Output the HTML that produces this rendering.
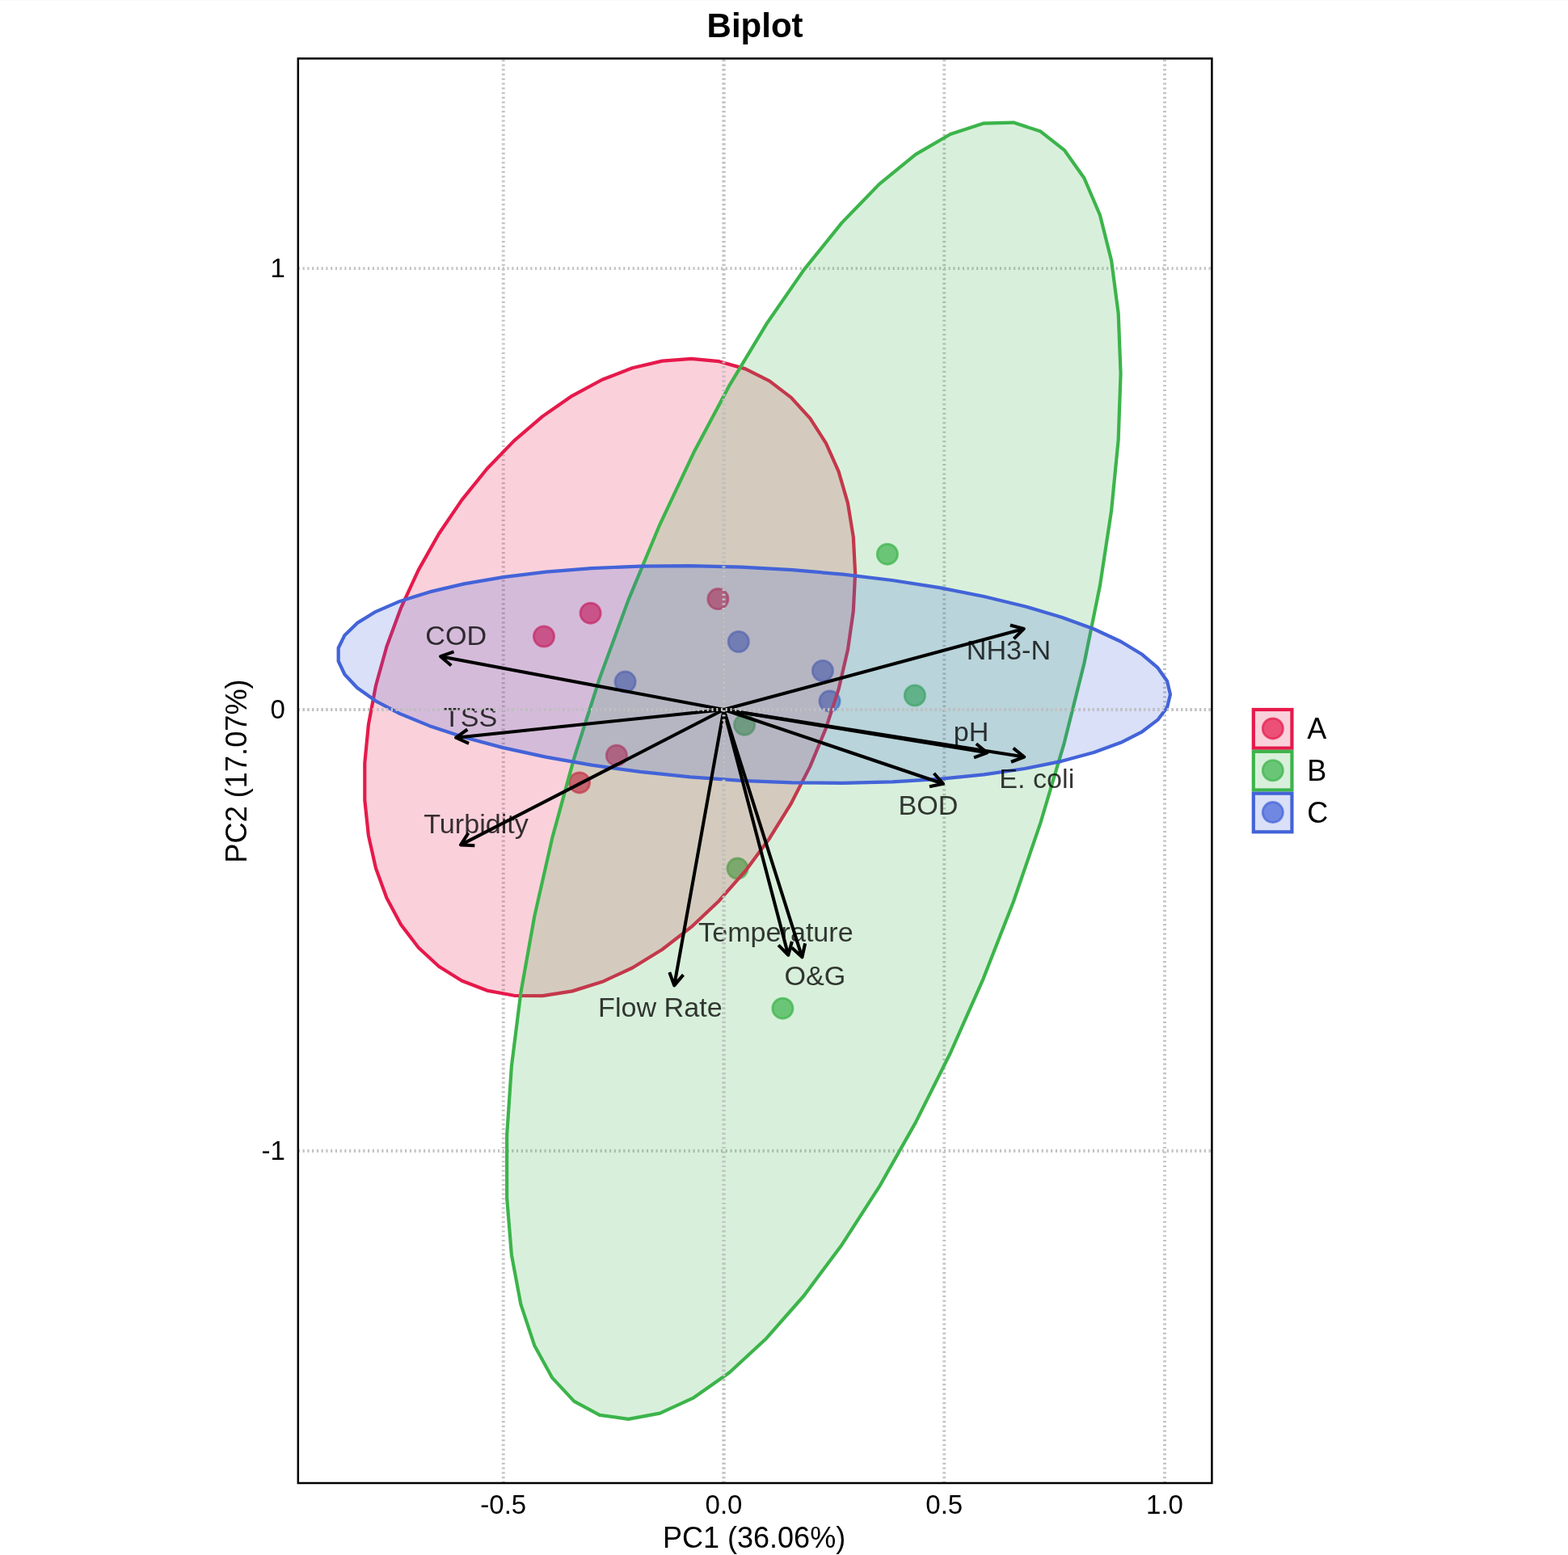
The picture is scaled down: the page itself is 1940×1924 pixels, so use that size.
<!DOCTYPE html>
<html lang="en"><head><meta charset="utf-8"><title>Biplot</title>
<style>
html,body{margin:0;padding:0;background:#fff;}
body{width:1940px;height:1924px;overflow:hidden;font-family:"Liberation Sans", Arial, Helvetica, sans-serif;}
svg{display:block;position:absolute;left:0;top:0;font-family:"Liberation Sans", Arial, Helvetica, sans-serif;}
text{white-space:pre;}
</style></head><body>
<svg xmlns="http://www.w3.org/2000/svg" width="1940" height="1924" viewBox="0 0 1940 1924">
<rect x="0" y="0" width="1940" height="1924" fill="#ffffff"/>
<rect x="0" y="0" width="1940" height="1" fill="#f8f9fb"/>
<defs><clipPath id="panel"><rect x="368.8" y="72.4" width="1130.6" height="1762.6"/></clipPath></defs>
<g clip-path="url(#panel)">
<g stroke="#C3C3C3" stroke-width="3.9" stroke-dasharray="2.2 3.5485" fill="none">
<line x1="368.8" y1="332.1" x2="1499.4" y2="332.1" stroke-dashoffset="0"/>
<line x1="368.8" y1="878.05" x2="1499.4" y2="878.05" stroke-dashoffset="0"/>
<line x1="368.8" y1="1424" x2="1499.4" y2="1424" stroke-dashoffset="0"/>
<line x1="622.75" y1="1835" x2="622.75" y2="72.4" stroke-dashoffset="0"/>
<line x1="895.5" y1="1835" x2="895.5" y2="72.4" stroke-dashoffset="0"/>
<line x1="1168.25" y1="1835" x2="1168.25" y2="72.4" stroke-dashoffset="0"/>
<line x1="1441" y1="1835" x2="1441" y2="72.4" stroke-dashoffset="0"/>
</g>
<g>
<circle cx="673" cy="787.5" r="12.6" fill="rgba(230,25,75,0.7)" stroke="rgba(230,25,75,0.7)" stroke-width="2.8"/>
<circle cx="730.6" cy="758.7" r="12.6" fill="rgba(230,25,75,0.7)" stroke="rgba(230,25,75,0.7)" stroke-width="2.8"/>
<circle cx="888.4" cy="741.1" r="12.6" fill="rgba(230,25,75,0.7)" stroke="rgba(230,25,75,0.7)" stroke-width="2.8"/>
<circle cx="762.9" cy="934.7" r="12.6" fill="rgba(230,25,75,0.7)" stroke="rgba(230,25,75,0.7)" stroke-width="2.8"/>
<circle cx="717" cy="968.4" r="12.6" fill="rgba(230,25,75,0.7)" stroke="rgba(230,25,75,0.7)" stroke-width="2.8"/>
<circle cx="1097.9" cy="685.7" r="12.6" fill="rgba(60,180,75,0.7)" stroke="rgba(60,180,75,0.7)" stroke-width="2.8"/>
<circle cx="1131.9" cy="860.5" r="12.6" fill="rgba(60,180,75,0.7)" stroke="rgba(60,180,75,0.7)" stroke-width="2.8"/>
<circle cx="921.1" cy="896.8" r="12.6" fill="rgba(60,180,75,0.7)" stroke="rgba(60,180,75,0.7)" stroke-width="2.8"/>
<circle cx="912.5" cy="1074.6" r="12.6" fill="rgba(60,180,75,0.7)" stroke="rgba(60,180,75,0.7)" stroke-width="2.8"/>
<circle cx="968.4" cy="1247.7" r="12.6" fill="rgba(60,180,75,0.7)" stroke="rgba(60,180,75,0.7)" stroke-width="2.8"/>
<circle cx="773.6" cy="843.6" r="12.6" fill="rgba(67,99,216,0.7)" stroke="rgba(67,99,216,0.7)" stroke-width="2.8"/>
<circle cx="913.8" cy="794" r="12.6" fill="rgba(67,99,216,0.7)" stroke="rgba(67,99,216,0.7)" stroke-width="2.8"/>
<circle cx="1017.9" cy="830" r="12.6" fill="rgba(67,99,216,0.7)" stroke="rgba(67,99,216,0.7)" stroke-width="2.8"/>
<circle cx="1026.5" cy="867.6" r="12.6" fill="rgba(67,99,216,0.7)" stroke="rgba(67,99,216,0.7)" stroke-width="2.8"/>
</g>
<g stroke-width="4.2" stroke-linejoin="round">
<path d="M1058.1 709.3 L1055.8 756.08 L1048.93 804.1 L1037.59 852.65 L1021.96 900.97 L1002.28 948.35 L978.84 994.05 L951.99 1037.4 L922.15 1077.73 L889.77 1114.43 L855.34 1146.94 L819.37 1174.77 L782.42 1197.51 L745.05 1214.8 L707.81 1226.38 L671.29 1232.07 L636.02 1231.8 L602.55 1225.57 L571.38 1213.46 L542.98 1195.67 L517.79 1172.46 L496.19 1144.18 L478.5 1111.27 L464.99 1074.21 L455.87 1033.59 L451.28 990 L451.28 944.11 L455.87 896.62 L464.99 848.24 L478.5 799.72 L496.19 751.78 L517.79 705.15 L542.98 660.54 L571.38 618.62 L602.55 580.03 L636.02 545.36 L671.29 515.13 L707.81 489.8 L745.05 469.75 L782.42 455.29 L819.37 446.63 L855.34 443.91 L889.77 447.17 L922.15 456.36 L951.99 471.34 L978.84 491.88 L1002.28 517.67 L1021.96 548.33 L1037.59 583.38 L1048.93 622.29 L1055.8 664.48 Z" fill="rgba(230,25,75,0.2)" stroke="#E6194B"/>
<path d="M1386.56 462.2 L1383.68 543.95 L1375.08 631.91 L1360.9 724.73 L1341.34 821.02 L1316.7 919.32 L1287.37 1018.12 L1253.77 1115.95 L1216.43 1211.3 L1175.91 1302.74 L1132.81 1388.89 L1087.81 1468.43 L1041.57 1540.16 L994.8 1602.99 L948.2 1655.97 L902.49 1698.3 L858.36 1729.33 L816.47 1748.6 L777.46 1755.81 L741.93 1750.85 L710.4 1733.81 L683.37 1704.93 L661.23 1664.65 L644.32 1613.59 L632.91 1552.52 L627.16 1482.36 L627.16 1404.18 L632.91 1319.16 L644.32 1228.6 L661.23 1133.86 L683.37 1036.39 L710.4 937.65 L741.93 839.15 L777.46 742.38 L816.47 648.8 L858.36 559.84 L902.49 476.84 L948.2 401.06 L994.8 333.65 L1041.57 275.63 L1087.81 227.89 L1132.81 191.14 L1175.91 165.94 L1216.43 152.68 L1253.77 151.55 L1287.37 162.57 L1316.7 185.58 L1341.34 220.22 L1360.9 265.98 L1375.08 322.15 L1383.68 387.89 Z" fill="rgba(60,180,75,0.2)" stroke="#3CB44B"/>
<path d="M1447.95 859.2 L1444.05 875.26 L1432.39 890.7 L1413.16 905.29 L1386.66 918.8 L1353.27 931.04 L1313.51 941.82 L1267.97 950.96 L1217.36 958.35 L1162.43 963.85 L1104.03 967.39 L1043.02 968.92 L980.35 968.42 L916.96 965.88 L853.8 961.35 L791.85 954.89 L732.03 946.62 L675.25 936.64 L622.38 925.11 L574.22 912.21 L531.49 898.14 L494.85 883.09 L464.84 867.32 L441.93 851.04 L426.46 834.51 L418.67 817.99 L418.67 801.71 L426.46 785.93 L441.93 770.89 L464.84 756.81 L494.85 743.91 L531.49 732.38 L574.22 722.4 L622.38 714.12 L675.26 707.66 L732.03 703.13 L791.85 700.59 L853.8 700.08 L916.96 701.6 L980.35 705.14 L1043.02 710.64 L1104.03 718.02 L1162.43 727.17 L1217.36 737.94 L1267.97 750.18 L1313.51 763.69 L1353.27 778.28 L1386.66 793.72 L1413.16 809.78 L1432.39 826.21 L1444.05 842.77 Z" fill="rgba(67,99,216,0.2)" stroke="#4363D8"/>
</g>
<g stroke="#000" stroke-width="4.07" fill="none" stroke-linejoin="round" stroke-linecap="butt">
<path d="M895.5 878.05 L545.1 812.2 M561.52 806.43 L545.1 812.2 L558.3 823.53"/>
<path d="M895.5 878.05 L564.2 912.7 M578.28 902.48 L564.2 912.7 L580.09 919.79"/>
<path d="M895.5 878.05 L570 1045.4 M579.42 1030.77 L570 1045.4 L587.38 1046.25"/>
<path d="M895.5 878.05 L834.2 1219.4 M828.3 1203.03 L834.2 1219.4 L845.43 1206.11"/>
<path d="M895.5 878.05 L975.3 1181.7 M963.06 1169.34 L975.3 1181.7 L979.88 1164.91"/>
<path d="M895.5 878.05 L992.4 1184.3 M979.56 1172.56 L992.4 1184.3 L996.15 1167.31"/>
<path d="M895.5 878.05 L1167 969.8 M1149.94 973.22 L1167 969.8 L1155.51 956.73"/>
<path d="M895.5 878.05 L1221.3 931.3 M1205.03 937.46 L1221.3 931.3 L1207.83 920.28"/>
<path d="M895.5 878.05 L1267.2 936.5 M1250.96 942.75 L1267.2 936.5 L1253.67 925.56"/>
<path d="M895.5 878.05 L1266.7 778 M1254.41 790.32 L1266.7 778 L1249.89 773.52"/>
</g>
<g font-size="34.14" fill="rgba(0,0,0,0.78)" text-anchor="middle">
<text x="564.2" y="798.4">COD</text>
<text x="582" y="898.6">TSS</text>
<text x="589.1" y="1030.6">Turbidity</text>
<text x="816.9" y="1257.6">Flow Rate</text>
<text x="959.9" y="1165.3">Temperature</text>
<text x="1008.5" y="1219.4">O&amp;G</text>
<text x="1148.5" y="1008">BOD</text>
<text x="1201.6" y="916.6">pH</text>
<text x="1282.8" y="975.3">E. coli</text>
<text x="1247.9" y="815.5">NH3-N</text>
</g>
<g stroke="#C3C3C3" stroke-width="3.9" stroke-dasharray="2.2 3.5485" fill="none">
<line x1="368.8" y1="878.05" x2="1499.4" y2="878.05" stroke-dashoffset="0"/>
<line x1="895.5" y1="1835" x2="895.5" y2="72.4" stroke-dashoffset="0"/>
</g>
</g>
<rect x="368.8" y="72.4" width="1130.6" height="1762.6" fill="none" stroke="#000" stroke-width="2.5"/>
<text x="934.1" y="46" font-size="42" font-weight="bold" text-anchor="middle" fill="#000">Biplot</text>
<text x="933.1" y="1915.3" font-size="36" text-anchor="middle" fill="#000">PC1 (36.06%)</text>
<text transform="translate(305.4 954) rotate(-90)" font-size="36.2" text-anchor="middle" fill="#000">PC2 (17.07%)</text>
<g font-size="33" fill="#000" text-anchor="middle">
<text x="622.75" y="1872.6">-0.5</text>
<text x="895.5" y="1872.6">0.0</text>
<text x="1168.25" y="1872.6">0.5</text>
<text x="1441" y="1872.6">1.0</text>
</g>
<g font-size="33" fill="#000" text-anchor="end">
<text x="352.9" y="342.8">1</text>
<text x="352.9" y="888.75">0</text>
<text x="352.9" y="1434.7">-1</text>
</g>
<rect x="1550.8" y="878" width="47.64" height="47.64" fill="rgba(230,25,75,0.2)" stroke="#E6194B" stroke-width="4.2"/>
<circle cx="1574.82" cy="901.42" r="12.6" fill="rgba(230,25,75,0.7)" stroke="rgba(230,25,75,0.7)" stroke-width="2.8"/>
<text x="1617.2" y="914.17" font-size="36" fill="#000">A</text>
<rect x="1550.8" y="929.84" width="47.64" height="47.64" fill="rgba(60,180,75,0.2)" stroke="#3CB44B" stroke-width="4.2"/>
<circle cx="1574.82" cy="953.26" r="12.6" fill="rgba(60,180,75,0.7)" stroke="rgba(60,180,75,0.7)" stroke-width="2.8"/>
<text x="1617.2" y="966.01" font-size="36" fill="#000">B</text>
<rect x="1550.8" y="981.68" width="47.64" height="47.64" fill="rgba(67,99,216,0.2)" stroke="#4363D8" stroke-width="4.2"/>
<circle cx="1574.82" cy="1005.1" r="12.6" fill="rgba(67,99,216,0.7)" stroke="rgba(67,99,216,0.7)" stroke-width="2.8"/>
<text x="1617.2" y="1017.85" font-size="36" fill="#000">C</text>
</svg>
</body></html>
